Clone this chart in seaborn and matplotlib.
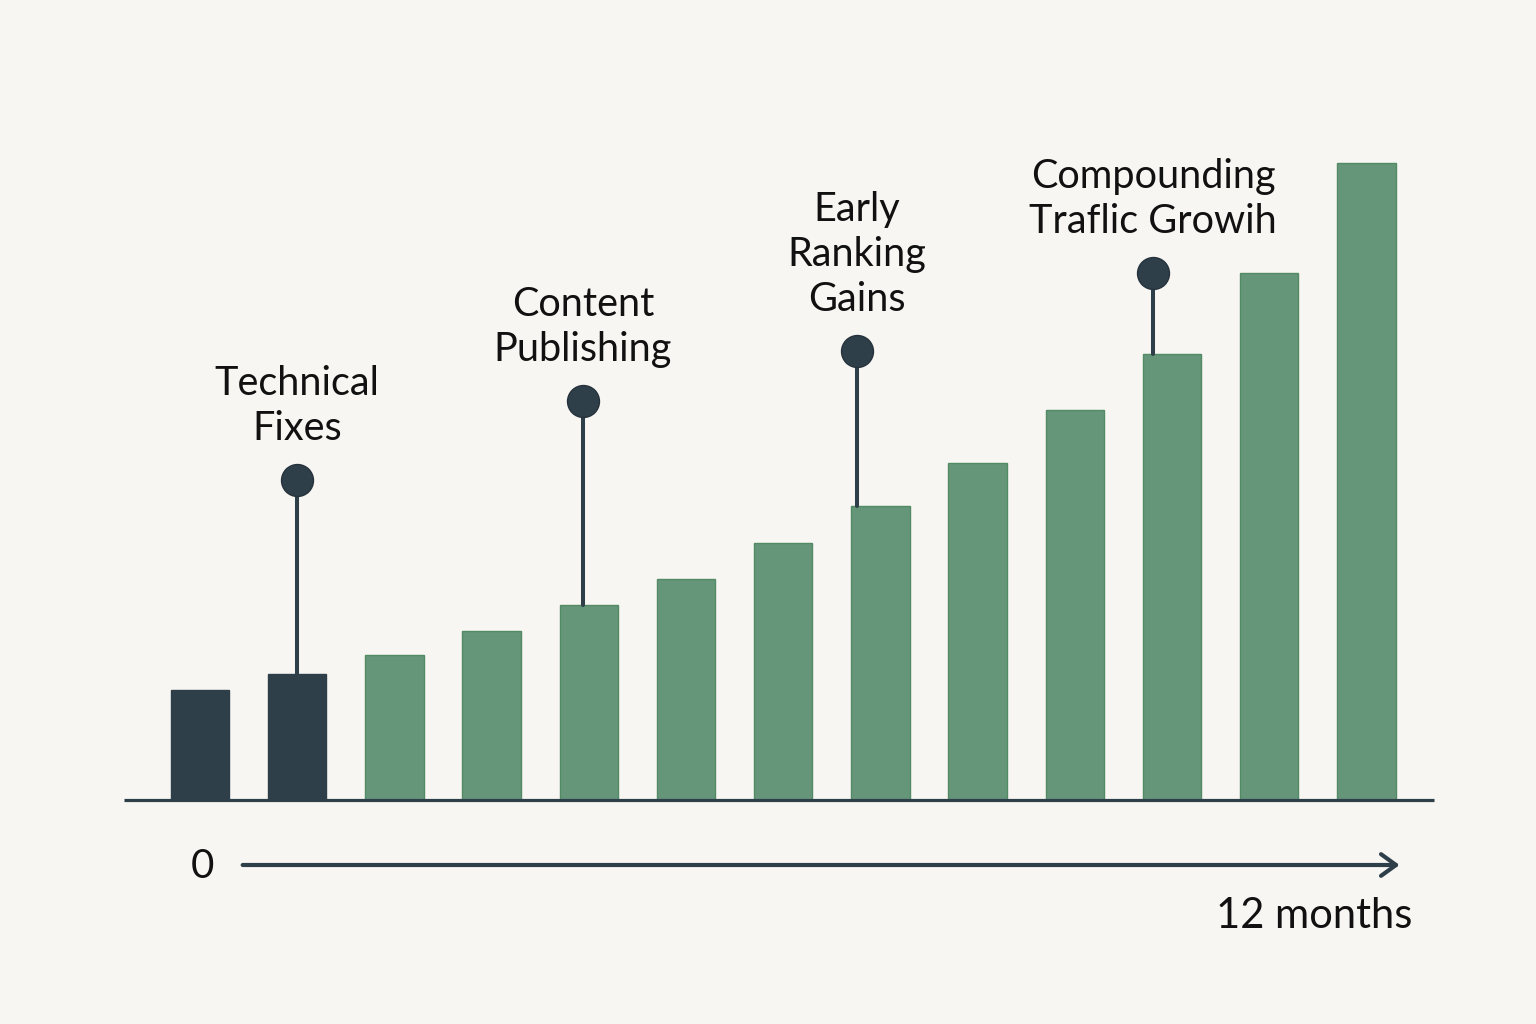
import numpy as np
import matplotlib
matplotlib.use("Agg")
import matplotlib.pyplot as plt
import seaborn as sns

# data (bar heights, arbitrary units)
months = [str(m) for m in range(13)]
traffic = [1.10, 1.26, 1.45, 1.69, 1.95, 2.21, 2.57, 2.94, 3.37, 3.90, 4.46, 5.27, 6.37]
phase = ["setup", "setup"] + ["growth"] * 11

# milestone pins: which bar, where the pin head sits, label
milestone_bars = [1, 4, 7, 10]
milestone_levels = [3.20, 3.99, 4.49, 5.27]
milestone_labels = ["Technical\nFixes", "Content\nPublishing", "Early\nRanking\nGains",
                    "Compounding\nTraflic Growih"]
pin_frac = [0.5, 0.4, 0.1, 0.18]   # where on the bar top the pin stands

start_label = "0"
end_label = "12 months"

BG = "#F8F6F2"
DARK = "#2F3F4A"
GREEN = "#66967A"
GREEN_EDGE = "#528A64"

sns.set_theme(style="white")
plt.rcParams["font.family"] = ["Lato", "DejaVu Sans"]

fig = plt.figure(figsize=(15.36, 10.24), dpi=100, facecolor=BG)
ax = fig.add_axes([0, 0, 1, 1])
ax.set_facecolor(BG)

colors = [DARK if p == "setup" else GREEN for p in phase]
bar_w = 0.60
sns.barplot(x=months, y=traffic, hue=months, palette=colors, legend=False,
            dodge=False, width=bar_w, saturation=1, ax=ax, zorder=2)
for p, c in zip(ax.patches, colors):
    p.set_edgecolor(DARK if c == DARK else GREEN_EDGE)
    p.set_linewidth(1.0)

ax.set_xlim(-2.058, 13.745)
ax.set_ylim(-2.24, 8.0)
ax.axis("off")

# baseline
ax.plot([-0.78, 12.70], [0, 0], color=DARK, lw=2.3, zorder=3, solid_capstyle="butt")

# milestone pins
for b, lvl, lab, fr in zip(milestone_bars, milestone_levels, milestone_labels, pin_frac):
    px = b - bar_w / 2 + fr * bar_w
    ax.plot([px, px], [traffic[b], lvl], color=DARK, lw=2.9, zorder=3)
    ax.plot(px, lvl, "o", ms=23, color=DARK, mec="#25323B", mew=1, zorder=4)
    ax.annotate(lab, xy=(px, lvl), xytext=(0, 29), textcoords="offset points",
                ha="center", va="baseline", fontsize=28.5, color="#111111",
                linespacing=1.27)

# time arrow
ax.annotate("", xy=(12.37, -0.65), xytext=(0.41, -0.65),
            arrowprops=dict(arrowstyle="->,head_length=0.9,head_width=0.65",
                            color=DARK, lw=3.0, capstyle="round", joinstyle="round"))
ax.text(0.02, -0.66, start_label, ha="center", va="center", fontsize=29, color="#111111")
ax.text(11.46, -1.16, end_label, ha="center", va="center", fontsize=30, color="#111111")

fig.savefig("out.png", dpi=100, facecolor=BG)
